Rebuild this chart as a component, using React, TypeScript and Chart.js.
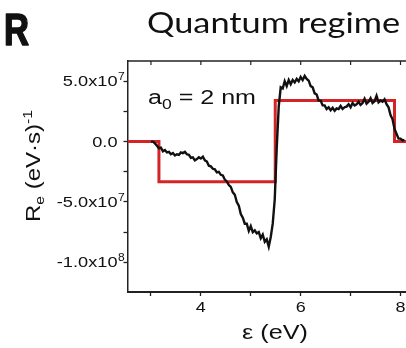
import React, { useEffect, useRef } from 'react';
import { Chart, registerables } from 'chart.js';

Chart.register(...registerables);

// ---------- data (y values in units of 1e7 (eV·s)^-1) ----------
const blackEnergy = [
  3.00, 3.04, 3.08, 3.12, 3.16, 3.20, 3.24, 3.28, 3.32, 3.36,
  3.40, 3.44, 3.48, 3.52, 3.56, 3.60, 3.64, 3.68, 3.72, 3.76,
  3.80, 3.84, 3.88, 3.92, 3.96, 4.00, 4.04, 4.08, 4.12, 4.16,
  4.20, 4.24, 4.28, 4.32, 4.36, 4.40, 4.44, 4.48, 4.52, 4.56,
  4.60, 4.64, 4.68, 4.72, 4.76, 4.80, 4.84, 4.88, 4.92, 4.96,
  5.00, 5.04, 5.08, 5.12, 5.16, 5.20, 5.24, 5.28, 5.32, 5.36,
  5.40, 5.44, 5.48, 5.52, 5.56, 5.60, 5.64, 5.68, 5.72, 5.76,
  5.80, 5.84, 5.88, 5.92, 5.96, 6.00, 6.04, 6.08, 6.12, 6.16,
  6.20, 6.24, 6.28, 6.32, 6.36, 6.40, 6.44, 6.48, 6.52, 6.56,
  6.60, 6.64, 6.68, 6.72, 6.76, 6.80, 6.84, 6.88, 6.92, 6.96,
  7.00, 7.04, 7.08, 7.12, 7.16, 7.20, 7.24, 7.28, 7.32, 7.36,
  7.40, 7.44, 7.48, 7.52, 7.56, 7.60, 7.64, 7.68, 7.72, 7.76,
  7.80, 7.84, 7.88, 7.92, 7.96, 8.00, 8.04, 8.08,
];
const blackRe = [
  0, 0, -0.15, -0.35, -0.55, -0.5, -0.8, -0.7, -0.9, -0.85,
  -1.05, -0.95, -1.15, -1.05, -1.1, -0.9, -0.95, -0.85, -1.05, -1.1,
  -1.35, -1.3, -1.55, -1.45, -1.3, -1.4, -1.25, -1.55, -1.65, -2.0,
  -2.05, -2.25, -2.3, -2.55, -2.5, -2.75, -2.8, -3.15, -3.3, -3.6,
  -3.75, -4.2, -4.4, -5.0, -5.3, -6.0, -6.3, -6.8, -6.8, -7.4,
  -7.0, -7.5, -7.35, -7.6, -7.5, -8.0, -7.7, -8.3, -8.1, -8.7,
  -7.9, -6.8, -4.8, -0.5, 2.9, 4.5, 4.4, 5.0, 4.6, 5.1,
  4.75, 5.1, 4.9, 5.2, 5.0, 5.35, 5.1, 5.45, 5.2, 5.05,
  4.6, 4.5, 4.0, 3.9, 3.4, 3.4, 3.0, 3.0, 2.7, 2.85,
  2.6, 2.8, 2.55, 2.75, 2.7, 2.95, 2.7, 2.85, 2.9, 3.1,
  2.85, 3.2, 3.0, 3.1, 3.3, 3.05, 3.2, 3.55, 3.15, 3.3,
  3.6, 3.2, 3.35, 3.8, 3.25, 3.4, 3.3, 3.5, 3.1, 2.85,
  2.2, 1.85, 1.05, 0.65, 0.25, 0.25, 0.1, 0.15,
];
const stepEnergy = [2.53, 3.16, 3.16, 5.49, 5.49, 7.88, 7.88, 8.11];
const stepRe = [0, 0, -3.32, -3.32, 3.4, 3.4, 0, 0];

const xMin = 2.53;
const xMax = 8.11;
const yMin = -12.46;
const yMax = 6.68;
const xTickValues = [3, 4, 5, 6, 7, 8];
const xTickLabels = ['', '4', '', '6', '', '8'];
const yTickValues = [5, 2.5, 0, -2.5, -5, -7.5, -10];
const yTickLabels = ['5.0x10^7', '', '0.0', '', '-5.0x10^7', '', '-1.0x10^8'];

const panelLetter = 'R';
const titleText = 'Quantum regime';
const xTitle = 'ε (eV)';
const annotationMain = 'a';
const annotationSub = '0';
const annotationRest = ' = 2 nm';

const AXIS = '#222';

type Seg = { t: string; size: number; dy: number; weight?: string };

function segWidth(ctx: CanvasRenderingContext2D, segs: Seg[], family: string) {
  let w = 0;
  for (const s of segs) {
    ctx.font = `${s.weight || 'normal'} ${s.size}px ${family}`;
    w += ctx.measureText(s.t).width;
  }
  return w;
}

function drawRich(
  ctx: CanvasRenderingContext2D,
  segs: Seg[],
  family: string,
  x: number,
  y: number,
  opts: { align?: 'left' | 'center' | 'right'; width?: number; sx?: number; rotate?: boolean; color?: string; stroke?: number }
) {
  const raw = segWidth(ctx, segs, family);
  const sx = opts.width ? opts.width / raw : opts.sx || 1;
  const w = raw * sx;
  const align = opts.align || 'left';
  const start = align === 'center' ? -w / 2 : align === 'right' ? -w : 0;
  ctx.save();
  ctx.translate(x, y);
  if (opts.rotate) ctx.rotate(-Math.PI / 2);
  ctx.translate(start, 0);
  ctx.scale(sx, 1);
  ctx.fillStyle = opts.color || '#111';
  ctx.strokeStyle = opts.color || '#111';
  ctx.textAlign = 'left';
  ctx.textBaseline = 'alphabetic';
  let cx = 0;
  for (const s of segs) {
    ctx.font = `${s.weight || 'normal'} ${s.size}px ${family}`;
    ctx.fillText(s.t, cx, s.dy);
    if (opts.stroke) {
      ctx.lineWidth = opts.stroke;
      ctx.lineJoin = 'round';
      ctx.strokeText(s.t, cx, s.dy);
    }
    cx += ctx.measureText(s.t).width;
  }
  ctx.restore();
}

function tickSegs(label: string): Seg[] {
  const [m, e] = label.split('^');
  const segs: Seg[] = [{ t: m, size: 14, dy: 0 }];
  if (e) segs.push({ t: e, size: 10, dy: -6 });
  return segs;
}

const decorPlugin = {
  id: 'decor',
  afterDraw(chart: any) {
    const ctx: CanvasRenderingContext2D = chart.ctx;
    const xs = chart.scales.x;
    const ys = chart.scales.y;
    const area = chart.chartArea;
    const SANS = '"Liberation Sans", Arial, sans-serif';

    // top axis with inward ticks
    ctx.save();
    ctx.strokeStyle = AXIS;
    ctx.lineWidth = 1.5;
    ctx.beginPath();
    ctx.moveTo(area.left, area.top);
    ctx.lineTo(area.right, area.top);
    ctx.stroke();
    ctx.lineWidth = 1.2;
    for (const v of xTickValues) {
      const px = xs.getPixelForValue(v);
      ctx.beginPath();
      ctx.moveTo(px, area.top);
      ctx.lineTo(px, area.top + 4);
      ctx.stroke();
    }
    ctx.restore();

    // y tick labels
    yTickValues.forEach((v, i) => {
      const lab = yTickLabels[i];
      if (!lab) return;
      const py = ys.getPixelForValue(v);
      const segs = tickSegs(lab);
      const mant = [segs[0]];
      const mw = segWidth(ctx, mant, SANS) * 1.3;
      const right = 117.5;
      drawRich(ctx, mant, SANS, right - mw, py + 5, { sx: 1.3 });
      if (segs[1]) drawRich(ctx, [segs[1]], SANS, right + 0.5, py + 5, { sx: 1.2 });
    });

    // x tick labels
    xTickValues.forEach((v, i) => {
      const lab = xTickLabels[i];
      if (!lab) return;
      const px = xs.getPixelForValue(v);
      drawRich(ctx, [{ t: lab, size: 15, dy: 0 }], SANS, px, 312, { align: 'center', sx: 1.2 });
    });

    // x title
    drawRich(ctx, [{ t: xTitle, size: 20, dy: 0 }], SANS, 275, 339, { align: 'center', width: 66 });

    // y title (rotated)
    drawRich(
      ctx,
      [
        { t: 'R', size: 20, dy: 0 },
        { t: 'e', size: 13, dy: 4 },
        { t: ' (eV·s)', size: 20, dy: 0 },
        { t: '-1', size: 13, dy: -8 },
      ],
      SANS,
      40,
      166,
      { align: 'center', width: 112, rotate: true }
    );

    // annotation a0 = 2 nm
    drawRich(
      ctx,
      [
        { t: annotationMain, size: 20, dy: 0 },
        { t: annotationSub, size: 14, dy: 5 },
        { t: annotationRest, size: 20, dy: 0 },
      ],
      SANS,
      148,
      104,
      { width: 108 }
    );

    // title
    drawRich(ctx, [{ t: titleText, size: 28, dy: 0 }], 'Lato, "Open Sans", sans-serif', 147, 33, { width: 253 });

    // panel letter
    drawRich(ctx, [{ t: panelLetter, size: 44, dy: 0, weight: 'bold' }], '"Liberation Sans", Arial, sans-serif', 4, 45, { width: 25, stroke: 1.6 });
  },
};

export default function App() {
  const ref = useRef<HTMLCanvasElement | null>(null);
  useEffect(() => {
    document.body.style.margin = '0';
    const canvas = ref.current!;
    const chart = new Chart(canvas, {
      type: 'line',
      data: {
        datasets: [
          {
            label: 'measured',
            data: blackEnergy.map((e, i) => ({ x: e, y: blackRe[i] })),
            borderColor: '#111',
            borderWidth: 2.4,
            pointRadius: 0,
            tension: 0,
            order: 0,
          },
          {
            label: 'model',
            data: stepEnergy.map((e, i) => ({ x: e, y: stepRe[i] })),
            borderColor: 'rgb(212,36,38)',
            borderWidth: 3,
            pointRadius: 0,
            tension: 0,
            order: 1,
          },
        ],
      },
      options: {
        responsive: false,
        animation: false,
        events: [],
        layout: { padding: { top: 61, left: 0, right: 0, bottom: 0 } },
        plugins: { legend: { display: false }, tooltip: { enabled: false }, title: { display: false } },
        scales: {
          x: {
            type: 'linear',
            min: xMin,
            max: xMax,
            afterBuildTicks: (s: any) => {
              s.ticks = xTickValues.map((v) => ({ value: v }));
            },
            afterFit: (s: any) => {
              s.height = 56;
            },
            ticks: { display: false },
            grid: {
              drawOnChartArea: false,
              drawTicks: true,
              tickLength: 4,
              tickColor: AXIS,
              tickWidth: 1.3,
            },
            border: { display: true, color: AXIS, width: 2 },
          },
          y: {
            type: 'linear',
            min: yMin,
            max: yMax,
            afterBuildTicks: (s: any) => {
              s.ticks = yTickValues.map((v) => ({ value: v }));
            },
            afterFit: (s: any) => {
              s.width = 127.5;
            },
            ticks: { display: false },
            grid: {
              drawOnChartArea: false,
              drawTicks: true,
              tickLength: 4,
              tickColor: AXIS,
              tickWidth: 1.3,
            },
            border: { display: true, color: AXIS, width: 1.5 },
          },
        },
      },
      plugins: [decorPlugin],
    });
    return () => chart.destroy();
  }, []);
  return (
    <div style={{ position: 'fixed', left: 0, top: 0, width: 406, height: 348, background: '#fff' }}>
      <canvas ref={ref} width={406} height={348} />
    </div>
  );
}
